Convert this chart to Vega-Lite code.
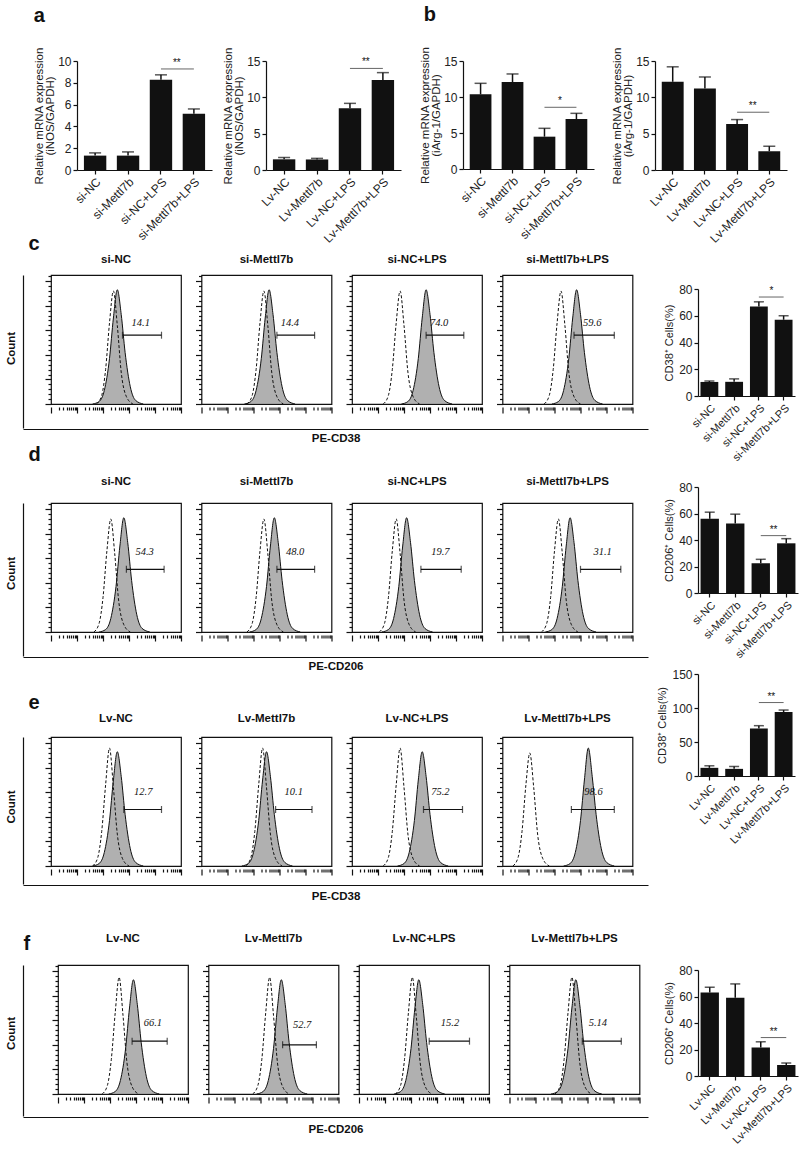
{
"$schema":"https://vega.github.io/schema/vega-lite/v6.json",
"padding":{"left":5,"top":5,"right":5,"bottom":5},
"background":"white",
"config":{
 "font":"Liberation Sans",
 "view":{"stroke":null},
 "axis":{"domainColor":"#111","tickColor":"#111","labelColor":"#222","titleColor":"#222","grid":false,"labelFont":"Liberation Sans","titleFont":"Liberation Sans","titleFontWeight":"normal","labelFontSize":12,"titleFontSize":11,"tickSize":4,"labelPadding":2,"titlePadding":4,"domainWidth":1.2,"tickWidth":1.2,"labelOverlap":false},
 "axisY":{"minExtent":0},
 "title":{"font":"Liberation Sans","color":"#111"},
 "header":{"labelFont":"Liberation Sans","labelColor":"#111","labelFontWeight":"bold","labelFontSize":11.5,"title":null}
},
"datasets":{
"bars":[
{"p":"a1","g":"si-NC","m":1.32,"h":1.57},{"p":"a1","g":"si-Mettl7b","m":1.32,"h":1.66},{"p":"a1","g":"si-NC+LPS","m":8.27,"h":8.73},{"p":"a1","g":"si-Mettl7b+LPS","m":5.15,"h":5.6},
{"p":"a2","g":"Lv-NC","m":1.47,"h":1.72},{"p":"a2","g":"Lv-Mettl7b","m":1.45,"h":1.6},{"p":"a2","g":"Lv-NC+LPS","m":8.49,"h":9.17},{"p":"a2","g":"Lv-Mettl7b+LPS","m":12.38,"h":13.4},
{"p":"b1","g":"si-NC","m":10.37,"h":11.9},{"p":"b1","g":"si-Mettl7b","m":12.08,"h":13.2},{"p":"b1","g":"si-NC+LPS","m":4.49,"h":5.65},{"p":"b1","g":"si-Mettl7b+LPS","m":6.94,"h":7.73},
{"p":"b2","g":"Lv-NC","m":12.14,"h":14.2},{"p":"b2","g":"Lv-Mettl7b","m":11.2,"h":12.8},{"p":"b2","g":"Lv-NC+LPS","m":6.34,"h":6.94},{"p":"b2","g":"Lv-Mettl7b+LPS","m":2.58,"h":3.27},
{"p":"c","g":"si-NC","m":10.5,"h":11.2},{"p":"c","g":"si-Mettl7b","m":10.6,"h":12.8},{"p":"c","g":"si-NC+LPS","m":67,"h":70.4},{"p":"c","g":"si-Mettl7b+LPS","m":57,"h":60},
{"p":"d","g":"si-NC","m":56,"h":61},{"p":"d","g":"si-Mettl7b","m":52.5,"h":59.5},{"p":"d","g":"si-NC+LPS","m":22.5,"h":25.4},{"p":"d","g":"si-Mettl7b+LPS","m":37.5,"h":41},
{"p":"e","g":"Lv-NC","m":12,"h":15},{"p":"e","g":"Lv-Mettl7b","m":10.5,"h":14},{"p":"e","g":"Lv-NC+LPS","m":70,"h":74},{"p":"e","g":"Lv-Mettl7b+LPS","m":94,"h":97},
{"p":"f","g":"Lv-NC","m":63,"h":67},{"p":"f","g":"Lv-Mettl7b","m":59,"h":69.5},{"p":"f","g":"Lv-NC+LPS","m":21.5,"h":25.8},{"p":"f","g":"Lv-Mettl7b+LPS","m":8.3,"h":9.8}
],
"sig":[
{"p":"a1","g1":"si-NC+LPS","g2":"si-Mettl7b+LPS","y":9.27,"t":"**"},
{"p":"a2","g1":"Lv-NC+LPS","g2":"Lv-Mettl7b+LPS","y":13.98,"t":"**"},
{"p":"b1","g1":"si-NC+LPS","g2":"si-Mettl7b+LPS","y":8.57,"t":"*"},
{"p":"b2","g1":"Lv-NC+LPS","g2":"Lv-Mettl7b+LPS","y":7.95,"t":"**"},
{"p":"c","g1":"si-NC+LPS","g2":"si-Mettl7b+LPS","y":74,"t":"*"},
{"p":"d","g1":"si-NC+LPS","g2":"si-Mettl7b+LPS","y":43.3,"t":"**"},
{"p":"e","g1":"Lv-NC+LPS","g2":"Lv-Mettl7b+LPS","y":108,"t":"**"},
{"p":"f","g1":"Lv-NC+LPS","g2":"Lv-Mettl7b+LPS","y":29,"t":"**"}
],
"hist":[
{"r":"c","g":"si-NC","k":"f","x":32,"y":0},{"r":"c","g":"si-NC","k":"f","x":37,"y":2},{"r":"c","g":"si-NC","k":"f","x":41,"y":11},{"r":"c","g":"si-NC","k":"f","x":45,"y":37},{"r":"c","g":"si-NC","k":"f","x":48,"y":70},{"r":"c","g":"si-NC","k":"f","x":51,"y":93},{"r":"c","g":"si-NC","k":"f","x":54,"y":73},{"r":"c","g":"si-NC","k":"f","x":57,"y":42},{"r":"c","g":"si-NC","k":"f","x":61,"y":14},{"r":"c","g":"si-NC","k":"f","x":65,"y":3},{"r":"c","g":"si-NC","k":"f","x":71,"y":0},
{"r":"c","g":"si-NC","k":"d","x":35,"y":0},{"r":"c","g":"si-NC","k":"d","x":39,"y":7},{"r":"c","g":"si-NC","k":"d","x":42,"y":28},{"r":"c","g":"si-NC","k":"d","x":45,"y":66},{"r":"c","g":"si-NC","k":"d","x":48,"y":92},{"r":"c","g":"si-NC","k":"d","x":51,"y":64},{"r":"c","g":"si-NC","k":"d","x":54,"y":26},{"r":"c","g":"si-NC","k":"d","x":58,"y":6},{"r":"c","g":"si-NC","k":"d","x":63,"y":0},
{"r":"c","g":"si-NC","k":"gate","x":55,"x2":85,"y":56},{"r":"c","g":"si-NC","k":"cap","x":55,"y":56},{"r":"c","g":"si-NC","k":"cap","x":85,"y":56},{"r":"c","g":"si-NC","k":"lab","x":69,"y":66,"t":"14.1"},
{"r":"c","g":"si-Mettl7b","k":"f","x":33,"y":0},{"r":"c","g":"si-Mettl7b","k":"f","x":38,"y":2},{"r":"c","g":"si-Mettl7b","k":"f","x":42,"y":11},{"r":"c","g":"si-Mettl7b","k":"f","x":46,"y":37},{"r":"c","g":"si-Mettl7b","k":"f","x":49,"y":70},{"r":"c","g":"si-Mettl7b","k":"f","x":52,"y":93},{"r":"c","g":"si-Mettl7b","k":"f","x":55,"y":73},{"r":"c","g":"si-Mettl7b","k":"f","x":58,"y":42},{"r":"c","g":"si-Mettl7b","k":"f","x":62,"y":14},{"r":"c","g":"si-Mettl7b","k":"f","x":66,"y":3},{"r":"c","g":"si-Mettl7b","k":"f","x":72,"y":0},
{"r":"c","g":"si-Mettl7b","k":"d","x":35,"y":0},{"r":"c","g":"si-Mettl7b","k":"d","x":39,"y":7},{"r":"c","g":"si-Mettl7b","k":"d","x":42,"y":28},{"r":"c","g":"si-Mettl7b","k":"d","x":45,"y":66},{"r":"c","g":"si-Mettl7b","k":"d","x":48,"y":92},{"r":"c","g":"si-Mettl7b","k":"d","x":51,"y":64},{"r":"c","g":"si-Mettl7b","k":"d","x":54,"y":26},{"r":"c","g":"si-Mettl7b","k":"d","x":58,"y":6},{"r":"c","g":"si-Mettl7b","k":"d","x":63,"y":0},
{"r":"c","g":"si-Mettl7b","k":"gate","x":58,"x2":87,"y":56},{"r":"c","g":"si-Mettl7b","k":"cap","x":58,"y":56},{"r":"c","g":"si-Mettl7b","k":"cap","x":87,"y":56},{"r":"c","g":"si-Mettl7b","k":"lab","x":68,"y":66,"t":"14.4"},
{"r":"c","g":"si-NC+LPS","k":"f","x":38,"y":0},{"r":"c","g":"si-NC+LPS","k":"f","x":43,"y":2},{"r":"c","g":"si-NC+LPS","k":"f","x":47,"y":11},{"r":"c","g":"si-NC+LPS","k":"f","x":51,"y":37},{"r":"c","g":"si-NC+LPS","k":"f","x":54,"y":70},{"r":"c","g":"si-NC+LPS","k":"f","x":57,"y":93},{"r":"c","g":"si-NC+LPS","k":"f","x":60,"y":73},{"r":"c","g":"si-NC+LPS","k":"f","x":63,"y":42},{"r":"c","g":"si-NC+LPS","k":"f","x":67,"y":14},{"r":"c","g":"si-NC+LPS","k":"f","x":71,"y":3},{"r":"c","g":"si-NC+LPS","k":"f","x":77,"y":0},
{"r":"c","g":"si-NC+LPS","k":"d","x":24,"y":0},{"r":"c","g":"si-NC+LPS","k":"d","x":28,"y":7},{"r":"c","g":"si-NC+LPS","k":"d","x":31,"y":28},{"r":"c","g":"si-NC+LPS","k":"d","x":34,"y":66},{"r":"c","g":"si-NC+LPS","k":"d","x":37,"y":92},{"r":"c","g":"si-NC+LPS","k":"d","x":40,"y":64},{"r":"c","g":"si-NC+LPS","k":"d","x":43,"y":26},{"r":"c","g":"si-NC+LPS","k":"d","x":47,"y":6},{"r":"c","g":"si-NC+LPS","k":"d","x":52,"y":0},
{"r":"c","g":"si-NC+LPS","k":"gate","x":57,"x2":86,"y":56},{"r":"c","g":"si-NC+LPS","k":"cap","x":57,"y":56},{"r":"c","g":"si-NC+LPS","k":"cap","x":86,"y":56},{"r":"c","g":"si-NC+LPS","k":"lab","x":67,"y":66,"t":"74.0"},
{"r":"c","g":"si-Mettl7b+LPS","k":"f","x":38,"y":0},{"r":"c","g":"si-Mettl7b+LPS","k":"f","x":43,"y":2},{"r":"c","g":"si-Mettl7b+LPS","k":"f","x":47,"y":11},{"r":"c","g":"si-Mettl7b+LPS","k":"f","x":51,"y":37},{"r":"c","g":"si-Mettl7b+LPS","k":"f","x":54,"y":70},{"r":"c","g":"si-Mettl7b+LPS","k":"f","x":57,"y":93},{"r":"c","g":"si-Mettl7b+LPS","k":"f","x":60,"y":73},{"r":"c","g":"si-Mettl7b+LPS","k":"f","x":63,"y":42},{"r":"c","g":"si-Mettl7b+LPS","k":"f","x":67,"y":14},{"r":"c","g":"si-Mettl7b+LPS","k":"f","x":71,"y":3},{"r":"c","g":"si-Mettl7b+LPS","k":"f","x":77,"y":0},
{"r":"c","g":"si-Mettl7b+LPS","k":"d","x":32,"y":0},{"r":"c","g":"si-Mettl7b+LPS","k":"d","x":36,"y":7},{"r":"c","g":"si-Mettl7b+LPS","k":"d","x":39,"y":28},{"r":"c","g":"si-Mettl7b+LPS","k":"d","x":42,"y":66},{"r":"c","g":"si-Mettl7b+LPS","k":"d","x":45,"y":92},{"r":"c","g":"si-Mettl7b+LPS","k":"d","x":48,"y":64},{"r":"c","g":"si-Mettl7b+LPS","k":"d","x":51,"y":26},{"r":"c","g":"si-Mettl7b+LPS","k":"d","x":55,"y":6},{"r":"c","g":"si-Mettl7b+LPS","k":"d","x":60,"y":0},
{"r":"c","g":"si-Mettl7b+LPS","k":"gate","x":55,"x2":86,"y":56},{"r":"c","g":"si-Mettl7b+LPS","k":"cap","x":55,"y":56},{"r":"c","g":"si-Mettl7b+LPS","k":"cap","x":86,"y":56},{"r":"c","g":"si-Mettl7b+LPS","k":"lab","x":69,"y":66,"t":"59.6"},

{"r":"d","g":"si-NC","k":"f","x":37,"y":0},{"r":"d","g":"si-NC","k":"f","x":42,"y":2},{"r":"d","g":"si-NC","k":"f","x":46,"y":11},{"r":"d","g":"si-NC","k":"f","x":50,"y":37},{"r":"d","g":"si-NC","k":"f","x":53,"y":70},{"r":"d","g":"si-NC","k":"f","x":56,"y":93},{"r":"d","g":"si-NC","k":"f","x":59,"y":73},{"r":"d","g":"si-NC","k":"f","x":62,"y":42},{"r":"d","g":"si-NC","k":"f","x":66,"y":14},{"r":"d","g":"si-NC","k":"f","x":70,"y":3},{"r":"d","g":"si-NC","k":"f","x":76,"y":0},
{"r":"d","g":"si-NC","k":"d","x":33,"y":0},{"r":"d","g":"si-NC","k":"d","x":37,"y":7},{"r":"d","g":"si-NC","k":"d","x":40,"y":28},{"r":"d","g":"si-NC","k":"d","x":43,"y":66},{"r":"d","g":"si-NC","k":"d","x":46,"y":92},{"r":"d","g":"si-NC","k":"d","x":49,"y":64},{"r":"d","g":"si-NC","k":"d","x":52,"y":26},{"r":"d","g":"si-NC","k":"d","x":56,"y":6},{"r":"d","g":"si-NC","k":"d","x":61,"y":0},
{"r":"d","g":"si-NC","k":"gate","x":58,"x2":87,"y":51},{"r":"d","g":"si-NC","k":"cap","x":58,"y":51},{"r":"d","g":"si-NC","k":"cap","x":87,"y":51},{"r":"d","g":"si-NC","k":"lab","x":72,"y":65,"t":"54.3"},
{"r":"d","g":"si-Mettl7b","k":"f","x":37,"y":0},{"r":"d","g":"si-Mettl7b","k":"f","x":42,"y":2},{"r":"d","g":"si-Mettl7b","k":"f","x":46,"y":11},{"r":"d","g":"si-Mettl7b","k":"f","x":50,"y":37},{"r":"d","g":"si-Mettl7b","k":"f","x":53,"y":70},{"r":"d","g":"si-Mettl7b","k":"f","x":56,"y":93},{"r":"d","g":"si-Mettl7b","k":"f","x":59,"y":73},{"r":"d","g":"si-Mettl7b","k":"f","x":62,"y":42},{"r":"d","g":"si-Mettl7b","k":"f","x":66,"y":14},{"r":"d","g":"si-Mettl7b","k":"f","x":70,"y":3},{"r":"d","g":"si-Mettl7b","k":"f","x":76,"y":0},
{"r":"d","g":"si-Mettl7b","k":"d","x":35,"y":0},{"r":"d","g":"si-Mettl7b","k":"d","x":39,"y":7},{"r":"d","g":"si-Mettl7b","k":"d","x":42,"y":28},{"r":"d","g":"si-Mettl7b","k":"d","x":45,"y":66},{"r":"d","g":"si-Mettl7b","k":"d","x":48,"y":92},{"r":"d","g":"si-Mettl7b","k":"d","x":51,"y":64},{"r":"d","g":"si-Mettl7b","k":"d","x":54,"y":26},{"r":"d","g":"si-Mettl7b","k":"d","x":58,"y":6},{"r":"d","g":"si-Mettl7b","k":"d","x":63,"y":0},
{"r":"d","g":"si-Mettl7b","k":"gate","x":58,"x2":87,"y":51},{"r":"d","g":"si-Mettl7b","k":"cap","x":58,"y":51},{"r":"d","g":"si-Mettl7b","k":"cap","x":87,"y":51},{"r":"d","g":"si-Mettl7b","k":"lab","x":72,"y":65,"t":"48.0"},
{"r":"d","g":"si-NC+LPS","k":"f","x":23,"y":0},{"r":"d","g":"si-NC+LPS","k":"f","x":28,"y":2},{"r":"d","g":"si-NC+LPS","k":"f","x":32,"y":11},{"r":"d","g":"si-NC+LPS","k":"f","x":36,"y":37},{"r":"d","g":"si-NC+LPS","k":"f","x":39,"y":70},{"r":"d","g":"si-NC+LPS","k":"f","x":42,"y":93},{"r":"d","g":"si-NC+LPS","k":"f","x":45,"y":73},{"r":"d","g":"si-NC+LPS","k":"f","x":48,"y":42},{"r":"d","g":"si-NC+LPS","k":"f","x":52,"y":14},{"r":"d","g":"si-NC+LPS","k":"f","x":56,"y":3},{"r":"d","g":"si-NC+LPS","k":"f","x":62,"y":0},
{"r":"d","g":"si-NC+LPS","k":"d","x":21,"y":0},{"r":"d","g":"si-NC+LPS","k":"d","x":25,"y":7},{"r":"d","g":"si-NC+LPS","k":"d","x":28,"y":28},{"r":"d","g":"si-NC+LPS","k":"d","x":31,"y":66},{"r":"d","g":"si-NC+LPS","k":"d","x":34,"y":92},{"r":"d","g":"si-NC+LPS","k":"d","x":37,"y":64},{"r":"d","g":"si-NC+LPS","k":"d","x":40,"y":26},{"r":"d","g":"si-NC+LPS","k":"d","x":44,"y":6},{"r":"d","g":"si-NC+LPS","k":"d","x":49,"y":0},
{"r":"d","g":"si-NC+LPS","k":"gate","x":53,"x2":84,"y":51},{"r":"d","g":"si-NC+LPS","k":"cap","x":53,"y":51},{"r":"d","g":"si-NC+LPS","k":"cap","x":84,"y":51},{"r":"d","g":"si-NC+LPS","k":"lab","x":68,"y":65,"t":"19.7"},
{"r":"d","g":"si-Mettl7b+LPS","k":"f","x":33,"y":0},{"r":"d","g":"si-Mettl7b+LPS","k":"f","x":38,"y":2},{"r":"d","g":"si-Mettl7b+LPS","k":"f","x":42,"y":11},{"r":"d","g":"si-Mettl7b+LPS","k":"f","x":46,"y":37},{"r":"d","g":"si-Mettl7b+LPS","k":"f","x":49,"y":70},{"r":"d","g":"si-Mettl7b+LPS","k":"f","x":52,"y":93},{"r":"d","g":"si-Mettl7b+LPS","k":"f","x":55,"y":73},{"r":"d","g":"si-Mettl7b+LPS","k":"f","x":58,"y":42},{"r":"d","g":"si-Mettl7b+LPS","k":"f","x":62,"y":14},{"r":"d","g":"si-Mettl7b+LPS","k":"f","x":66,"y":3},{"r":"d","g":"si-Mettl7b+LPS","k":"f","x":72,"y":0},
{"r":"d","g":"si-Mettl7b+LPS","k":"d","x":30,"y":0},{"r":"d","g":"si-Mettl7b+LPS","k":"d","x":34,"y":7},{"r":"d","g":"si-Mettl7b+LPS","k":"d","x":37,"y":28},{"r":"d","g":"si-Mettl7b+LPS","k":"d","x":40,"y":66},{"r":"d","g":"si-Mettl7b+LPS","k":"d","x":43,"y":92},{"r":"d","g":"si-Mettl7b+LPS","k":"d","x":46,"y":64},{"r":"d","g":"si-Mettl7b+LPS","k":"d","x":49,"y":26},{"r":"d","g":"si-Mettl7b+LPS","k":"d","x":53,"y":6},{"r":"d","g":"si-Mettl7b+LPS","k":"d","x":58,"y":0},
{"r":"d","g":"si-Mettl7b+LPS","k":"gate","x":60,"x2":91,"y":51},{"r":"d","g":"si-Mettl7b+LPS","k":"cap","x":60,"y":51},{"r":"d","g":"si-Mettl7b+LPS","k":"cap","x":91,"y":51},{"r":"d","g":"si-Mettl7b+LPS","k":"lab","x":77,"y":65,"t":"31.1"},

{"r":"e","g":"Lv-NC","k":"f","x":32,"y":0},{"r":"e","g":"Lv-NC","k":"f","x":37,"y":2},{"r":"e","g":"Lv-NC","k":"f","x":41,"y":11},{"r":"e","g":"Lv-NC","k":"f","x":45,"y":37},{"r":"e","g":"Lv-NC","k":"f","x":48,"y":70},{"r":"e","g":"Lv-NC","k":"f","x":51,"y":93},{"r":"e","g":"Lv-NC","k":"f","x":54,"y":73},{"r":"e","g":"Lv-NC","k":"f","x":57,"y":42},{"r":"e","g":"Lv-NC","k":"f","x":61,"y":14},{"r":"e","g":"Lv-NC","k":"f","x":65,"y":3},{"r":"e","g":"Lv-NC","k":"f","x":71,"y":0},
{"r":"e","g":"Lv-NC","k":"d","x":32,"y":0},{"r":"e","g":"Lv-NC","k":"d","x":36,"y":7},{"r":"e","g":"Lv-NC","k":"d","x":39,"y":28},{"r":"e","g":"Lv-NC","k":"d","x":42,"y":66},{"r":"e","g":"Lv-NC","k":"d","x":45,"y":96},{"r":"e","g":"Lv-NC","k":"d","x":48,"y":64},{"r":"e","g":"Lv-NC","k":"d","x":51,"y":26},{"r":"e","g":"Lv-NC","k":"d","x":55,"y":6},{"r":"e","g":"Lv-NC","k":"d","x":60,"y":0},
{"r":"e","g":"Lv-NC","k":"gate","x":56,"x2":85,"y":46},{"r":"e","g":"Lv-NC","k":"cap","x":56,"y":46},{"r":"e","g":"Lv-NC","k":"cap","x":85,"y":46},{"r":"e","g":"Lv-NC","k":"lab","x":71,"y":60,"t":"12.7"},
{"r":"e","g":"Lv-Mettl7b","k":"f","x":31,"y":0},{"r":"e","g":"Lv-Mettl7b","k":"f","x":36,"y":2},{"r":"e","g":"Lv-Mettl7b","k":"f","x":40,"y":11},{"r":"e","g":"Lv-Mettl7b","k":"f","x":44,"y":37},{"r":"e","g":"Lv-Mettl7b","k":"f","x":47,"y":70},{"r":"e","g":"Lv-Mettl7b","k":"f","x":50,"y":93},{"r":"e","g":"Lv-Mettl7b","k":"f","x":53,"y":73},{"r":"e","g":"Lv-Mettl7b","k":"f","x":56,"y":42},{"r":"e","g":"Lv-Mettl7b","k":"f","x":60,"y":14},{"r":"e","g":"Lv-Mettl7b","k":"f","x":64,"y":3},{"r":"e","g":"Lv-Mettl7b","k":"f","x":70,"y":0},
{"r":"e","g":"Lv-Mettl7b","k":"d","x":34,"y":0},{"r":"e","g":"Lv-Mettl7b","k":"d","x":38,"y":7},{"r":"e","g":"Lv-Mettl7b","k":"d","x":41,"y":28},{"r":"e","g":"Lv-Mettl7b","k":"d","x":44,"y":66},{"r":"e","g":"Lv-Mettl7b","k":"d","x":47,"y":96},{"r":"e","g":"Lv-Mettl7b","k":"d","x":50,"y":64},{"r":"e","g":"Lv-Mettl7b","k":"d","x":53,"y":26},{"r":"e","g":"Lv-Mettl7b","k":"d","x":57,"y":6},{"r":"e","g":"Lv-Mettl7b","k":"d","x":62,"y":0},
{"r":"e","g":"Lv-Mettl7b","k":"gate","x":57,"x2":85,"y":46},{"r":"e","g":"Lv-Mettl7b","k":"cap","x":57,"y":46},{"r":"e","g":"Lv-Mettl7b","k":"cap","x":85,"y":46},{"r":"e","g":"Lv-Mettl7b","k":"lab","x":71,"y":60,"t":"10.1"},
{"r":"e","g":"Lv-NC+LPS","k":"f","x":35,"y":0},{"r":"e","g":"Lv-NC+LPS","k":"f","x":40,"y":2},{"r":"e","g":"Lv-NC+LPS","k":"f","x":44,"y":11},{"r":"e","g":"Lv-NC+LPS","k":"f","x":48,"y":37},{"r":"e","g":"Lv-NC+LPS","k":"f","x":51,"y":70},{"r":"e","g":"Lv-NC+LPS","k":"f","x":54,"y":93},{"r":"e","g":"Lv-NC+LPS","k":"f","x":57,"y":73},{"r":"e","g":"Lv-NC+LPS","k":"f","x":60,"y":42},{"r":"e","g":"Lv-NC+LPS","k":"f","x":64,"y":14},{"r":"e","g":"Lv-NC+LPS","k":"f","x":68,"y":3},{"r":"e","g":"Lv-NC+LPS","k":"f","x":74,"y":0},
{"r":"e","g":"Lv-NC+LPS","k":"d","x":24,"y":0},{"r":"e","g":"Lv-NC+LPS","k":"d","x":28,"y":7},{"r":"e","g":"Lv-NC+LPS","k":"d","x":31,"y":28},{"r":"e","g":"Lv-NC+LPS","k":"d","x":34,"y":66},{"r":"e","g":"Lv-NC+LPS","k":"d","x":37,"y":96},{"r":"e","g":"Lv-NC+LPS","k":"d","x":40,"y":64},{"r":"e","g":"Lv-NC+LPS","k":"d","x":43,"y":26},{"r":"e","g":"Lv-NC+LPS","k":"d","x":47,"y":6},{"r":"e","g":"Lv-NC+LPS","k":"d","x":52,"y":0},
{"r":"e","g":"Lv-NC+LPS","k":"gate","x":55,"x2":85,"y":46},{"r":"e","g":"Lv-NC+LPS","k":"cap","x":55,"y":46},{"r":"e","g":"Lv-NC+LPS","k":"cap","x":85,"y":46},{"r":"e","g":"Lv-NC+LPS","k":"lab","x":68,"y":60,"t":"75.2"},
{"r":"e","g":"Lv-Mettl7b+LPS","k":"f","x":47,"y":0},{"r":"e","g":"Lv-Mettl7b+LPS","k":"f","x":52,"y":2},{"r":"e","g":"Lv-Mettl7b+LPS","k":"f","x":56,"y":11},{"r":"e","g":"Lv-Mettl7b+LPS","k":"f","x":60,"y":37},{"r":"e","g":"Lv-Mettl7b+LPS","k":"f","x":63,"y":70},{"r":"e","g":"Lv-Mettl7b+LPS","k":"f","x":66,"y":96},{"r":"e","g":"Lv-Mettl7b+LPS","k":"f","x":69,"y":73},{"r":"e","g":"Lv-Mettl7b+LPS","k":"f","x":72,"y":42},{"r":"e","g":"Lv-Mettl7b+LPS","k":"f","x":76,"y":14},{"r":"e","g":"Lv-Mettl7b+LPS","k":"f","x":80,"y":3},{"r":"e","g":"Lv-Mettl7b+LPS","k":"f","x":86,"y":0},
{"r":"e","g":"Lv-Mettl7b+LPS","k":"d","x":8,"y":0},{"r":"e","g":"Lv-Mettl7b+LPS","k":"d","x":12,"y":7},{"r":"e","g":"Lv-Mettl7b+LPS","k":"d","x":15,"y":28},{"r":"e","g":"Lv-Mettl7b+LPS","k":"d","x":18,"y":66},{"r":"e","g":"Lv-Mettl7b+LPS","k":"d","x":21,"y":92},{"r":"e","g":"Lv-Mettl7b+LPS","k":"d","x":24,"y":64},{"r":"e","g":"Lv-Mettl7b+LPS","k":"d","x":27,"y":26},{"r":"e","g":"Lv-Mettl7b+LPS","k":"d","x":31,"y":6},{"r":"e","g":"Lv-Mettl7b+LPS","k":"d","x":36,"y":0},
{"r":"e","g":"Lv-Mettl7b+LPS","k":"gate","x":53,"x2":86,"y":46},{"r":"e","g":"Lv-Mettl7b+LPS","k":"cap","x":53,"y":46},{"r":"e","g":"Lv-Mettl7b+LPS","k":"cap","x":86,"y":46},{"r":"e","g":"Lv-Mettl7b+LPS","k":"lab","x":70,"y":60,"t":"98.6"},

{"r":"f","g":"Lv-NC","k":"f","x":39,"y":0},{"r":"f","g":"Lv-NC","k":"f","x":44,"y":2},{"r":"f","g":"Lv-NC","k":"f","x":48,"y":11},{"r":"f","g":"Lv-NC","k":"f","x":52,"y":37},{"r":"f","g":"Lv-NC","k":"f","x":55,"y":70},{"r":"f","g":"Lv-NC","k":"f","x":58,"y":93},{"r":"f","g":"Lv-NC","k":"f","x":61,"y":73},{"r":"f","g":"Lv-NC","k":"f","x":64,"y":42},{"r":"f","g":"Lv-NC","k":"f","x":68,"y":14},{"r":"f","g":"Lv-NC","k":"f","x":72,"y":3},{"r":"f","g":"Lv-NC","k":"f","x":78,"y":0},
{"r":"f","g":"Lv-NC","k":"d","x":34,"y":0},{"r":"f","g":"Lv-NC","k":"d","x":38,"y":7},{"r":"f","g":"Lv-NC","k":"d","x":41,"y":28},{"r":"f","g":"Lv-NC","k":"d","x":44,"y":66},{"r":"f","g":"Lv-NC","k":"d","x":47,"y":95},{"r":"f","g":"Lv-NC","k":"d","x":50,"y":64},{"r":"f","g":"Lv-NC","k":"d","x":53,"y":26},{"r":"f","g":"Lv-NC","k":"d","x":57,"y":6},{"r":"f","g":"Lv-NC","k":"d","x":62,"y":0},
{"r":"f","g":"Lv-NC","k":"gate","x":57,"x2":84,"y":43},{"r":"f","g":"Lv-NC","k":"cap","x":57,"y":43},{"r":"f","g":"Lv-NC","k":"cap","x":84,"y":43},{"r":"f","g":"Lv-NC","k":"lab","x":73,"y":58,"t":"66.1"},
{"r":"f","g":"Lv-Mettl7b","k":"f","x":37,"y":0},{"r":"f","g":"Lv-Mettl7b","k":"f","x":42,"y":2},{"r":"f","g":"Lv-Mettl7b","k":"f","x":46,"y":11},{"r":"f","g":"Lv-Mettl7b","k":"f","x":50,"y":37},{"r":"f","g":"Lv-Mettl7b","k":"f","x":53,"y":70},{"r":"f","g":"Lv-Mettl7b","k":"f","x":56,"y":93},{"r":"f","g":"Lv-Mettl7b","k":"f","x":59,"y":73},{"r":"f","g":"Lv-Mettl7b","k":"f","x":62,"y":42},{"r":"f","g":"Lv-Mettl7b","k":"f","x":66,"y":14},{"r":"f","g":"Lv-Mettl7b","k":"f","x":70,"y":3},{"r":"f","g":"Lv-Mettl7b","k":"f","x":76,"y":0},
{"r":"f","g":"Lv-Mettl7b","k":"d","x":34,"y":0},{"r":"f","g":"Lv-Mettl7b","k":"d","x":38,"y":7},{"r":"f","g":"Lv-Mettl7b","k":"d","x":41,"y":28},{"r":"f","g":"Lv-Mettl7b","k":"d","x":44,"y":66},{"r":"f","g":"Lv-Mettl7b","k":"d","x":47,"y":95},{"r":"f","g":"Lv-Mettl7b","k":"d","x":50,"y":64},{"r":"f","g":"Lv-Mettl7b","k":"d","x":53,"y":26},{"r":"f","g":"Lv-Mettl7b","k":"d","x":57,"y":6},{"r":"f","g":"Lv-Mettl7b","k":"d","x":62,"y":0},
{"r":"f","g":"Lv-Mettl7b","k":"gate","x":57,"x2":83,"y":40},{"r":"f","g":"Lv-Mettl7b","k":"cap","x":57,"y":40},{"r":"f","g":"Lv-Mettl7b","k":"cap","x":83,"y":40},{"r":"f","g":"Lv-Mettl7b","k":"lab","x":72,"y":56,"t":"52.7"},
{"r":"f","g":"Lv-NC+LPS","k":"f","x":27,"y":0},{"r":"f","g":"Lv-NC+LPS","k":"f","x":32,"y":2},{"r":"f","g":"Lv-NC+LPS","k":"f","x":36,"y":11},{"r":"f","g":"Lv-NC+LPS","k":"f","x":40,"y":37},{"r":"f","g":"Lv-NC+LPS","k":"f","x":43,"y":70},{"r":"f","g":"Lv-NC+LPS","k":"f","x":46,"y":93},{"r":"f","g":"Lv-NC+LPS","k":"f","x":49,"y":73},{"r":"f","g":"Lv-NC+LPS","k":"f","x":52,"y":42},{"r":"f","g":"Lv-NC+LPS","k":"f","x":56,"y":14},{"r":"f","g":"Lv-NC+LPS","k":"f","x":60,"y":3},{"r":"f","g":"Lv-NC+LPS","k":"f","x":66,"y":0},
{"r":"f","g":"Lv-NC+LPS","k":"d","x":28,"y":0},{"r":"f","g":"Lv-NC+LPS","k":"d","x":32,"y":7},{"r":"f","g":"Lv-NC+LPS","k":"d","x":35,"y":28},{"r":"f","g":"Lv-NC+LPS","k":"d","x":38,"y":66},{"r":"f","g":"Lv-NC+LPS","k":"d","x":41,"y":95},{"r":"f","g":"Lv-NC+LPS","k":"d","x":44,"y":64},{"r":"f","g":"Lv-NC+LPS","k":"d","x":47,"y":26},{"r":"f","g":"Lv-NC+LPS","k":"d","x":51,"y":6},{"r":"f","g":"Lv-NC+LPS","k":"d","x":56,"y":0},
{"r":"f","g":"Lv-NC+LPS","k":"gate","x":54,"x2":85,"y":43},{"r":"f","g":"Lv-NC+LPS","k":"cap","x":54,"y":43},{"r":"f","g":"Lv-NC+LPS","k":"cap","x":85,"y":43},{"r":"f","g":"Lv-NC+LPS","k":"lab","x":70,"y":58,"t":"15.2"},
{"r":"f","g":"Lv-Mettl7b+LPS","k":"f","x":32,"y":0},{"r":"f","g":"Lv-Mettl7b+LPS","k":"f","x":37,"y":2},{"r":"f","g":"Lv-Mettl7b+LPS","k":"f","x":41,"y":11},{"r":"f","g":"Lv-Mettl7b+LPS","k":"f","x":45,"y":37},{"r":"f","g":"Lv-Mettl7b+LPS","k":"f","x":48,"y":70},{"r":"f","g":"Lv-Mettl7b+LPS","k":"f","x":51,"y":93},{"r":"f","g":"Lv-Mettl7b+LPS","k":"f","x":54,"y":73},{"r":"f","g":"Lv-Mettl7b+LPS","k":"f","x":57,"y":42},{"r":"f","g":"Lv-Mettl7b+LPS","k":"f","x":61,"y":14},{"r":"f","g":"Lv-Mettl7b+LPS","k":"f","x":65,"y":3},{"r":"f","g":"Lv-Mettl7b+LPS","k":"f","x":71,"y":0},
{"r":"f","g":"Lv-Mettl7b+LPS","k":"d","x":35,"y":0},{"r":"f","g":"Lv-Mettl7b+LPS","k":"d","x":39,"y":7},{"r":"f","g":"Lv-Mettl7b+LPS","k":"d","x":42,"y":28},{"r":"f","g":"Lv-Mettl7b+LPS","k":"d","x":45,"y":66},{"r":"f","g":"Lv-Mettl7b+LPS","k":"d","x":48,"y":95},{"r":"f","g":"Lv-Mettl7b+LPS","k":"d","x":51,"y":64},{"r":"f","g":"Lv-Mettl7b+LPS","k":"d","x":54,"y":26},{"r":"f","g":"Lv-Mettl7b+LPS","k":"d","x":58,"y":6},{"r":"f","g":"Lv-Mettl7b+LPS","k":"d","x":63,"y":0},
{"r":"f","g":"Lv-Mettl7b+LPS","k":"gate","x":56,"x2":86,"y":43},{"r":"f","g":"Lv-Mettl7b+LPS","k":"cap","x":56,"y":43},{"r":"f","g":"Lv-Mettl7b+LPS","k":"cap","x":86,"y":43},{"r":"f","g":"Lv-Mettl7b+LPS","k":"lab","x":68,"y":58,"t":"5.14"}
]
},
"spacing":-12,
"vconcat":[
{"spacing":9,"hconcat":[
 {"width":1,"height":1,"data":{"values":[{}]},"mark":{"type":"rule","opacity":0},"encoding":{}},
 {"spacing":18,"hconcat":[
 {"title":{"text":"a","anchor":"start","frame":"bounds","fontSize":20,"fontWeight":"bold","offset":21},"spacing":10,"hconcat":[
  {"width":135,"height":109,"layer":[
   {"data":{"name":"bars"},"transform":[{"filter":"datum.p === 'a1'"}],"mark":{"type":"bar","color":"#111"},"encoding":{"x":{"field":"g","type":"nominal","scale":{"domain":["si-NC","si-Mettl7b","si-NC+LPS","si-Mettl7b+LPS"],"paddingInner":0.32,"paddingOuter":0.21},"axis":{"title":null,"labelAngle":-45}},"y":{"field":"m","type":"quantitative","scale":{"domain":[0,10],"nice":false},"axis":{"values":[0,2,4,6,8,10],"title":["Relative mRNA expression","(iNOS/GAPDH)"],"titleFontSize":11.5,"titleLineHeight":11,"titlePadding":2,"minExtent":0,"labelOverlap":false}}}},
   {"data":{"name":"bars"},"transform":[{"filter":"datum.p === 'a1'"}],"mark":{"type":"rule","color":"#111","strokeWidth":1.5},"encoding":{"x":{"field":"g","type":"nominal"},"y":{"field":"m","type":"quantitative","axis":{"values":[0,2,4,6,8,10],"title":["Relative mRNA expression","(iNOS/GAPDH)"],"titleFontSize":11.5,"titleLineHeight":11,"titlePadding":2,"minExtent":0,"labelOverlap":false}},"y2":{"field":"h"}}},
   {"data":{"name":"bars"},"transform":[{"filter":"datum.p === 'a1'"}],"mark":{"type":"tick","orient":"horizontal","color":"#111","thickness":1.5,"size":12},"encoding":{"x":{"field":"g","type":"nominal"},"y":{"field":"h","type":"quantitative","axis":{"values":[0,2,4,6,8,10],"title":["Relative mRNA expression","(iNOS/GAPDH)"],"titleFontSize":11.5,"titleLineHeight":11,"titlePadding":2,"minExtent":0,"labelOverlap":false}}}},
   {"data":{"name":"sig"},"transform":[{"filter":"datum.p === 'a1'"}],"mark":{"type":"rule","color":"#666","strokeWidth":1},"encoding":{"x":{"field":"g1","type":"nominal"},"x2":{"field":"g2"},"y":{"field":"y","type":"quantitative","axis":{"values":[0,2,4,6,8,10],"title":["Relative mRNA expression","(iNOS/GAPDH)"],"titleFontSize":11.5,"titleLineHeight":11,"titlePadding":2,"minExtent":0,"labelOverlap":false}}}},
   {"data":{"name":"sig"},"transform":[{"filter":"datum.p === 'a1'"}],"mark":{"type":"text","fontSize":10,"baseline":"bottom","dy":-1,"color":"#111"},"encoding":{"x":{"field":"g1","type":"nominal","bandPosition":1.21},"y":{"field":"y","type":"quantitative","axis":{"values":[0,2,4,6,8,10],"title":["Relative mRNA expression","(iNOS/GAPDH)"],"titleFontSize":11.5,"titleLineHeight":11,"titlePadding":2,"minExtent":0,"labelOverlap":false}},"text":{"field":"t"}}}
  ]},
  {"width":135,"height":109,"layer":[
   {"data":{"name":"bars"},"transform":[{"filter":"datum.p === 'a2'"}],"mark":{"type":"bar","color":"#111"},"encoding":{"x":{"field":"g","type":"nominal","scale":{"domain":["Lv-NC","Lv-Mettl7b","Lv-NC+LPS","Lv-Mettl7b+LPS"],"paddingInner":0.32,"paddingOuter":0.21},"axis":{"title":null,"labelAngle":-45}},"y":{"field":"m","type":"quantitative","scale":{"domain":[0,15],"nice":false},"axis":{"values":[0,5,10,15],"title":["Relative mRNA expression","(iNOS/GAPDH)"],"titleFontSize":11.5,"titleLineHeight":11,"titlePadding":2,"minExtent":0,"labelOverlap":false}}}},
   {"data":{"name":"bars"},"transform":[{"filter":"datum.p === 'a2'"}],"mark":{"type":"rule","color":"#111","strokeWidth":1.5},"encoding":{"x":{"field":"g","type":"nominal"},"y":{"field":"m","type":"quantitative","axis":{"values":[0,5,10,15],"title":["Relative mRNA expression","(iNOS/GAPDH)"],"titleFontSize":11.5,"titleLineHeight":11,"titlePadding":2,"minExtent":0,"labelOverlap":false}},"y2":{"field":"h"}}},
   {"data":{"name":"bars"},"transform":[{"filter":"datum.p === 'a2'"}],"mark":{"type":"tick","orient":"horizontal","color":"#111","thickness":1.5,"size":12},"encoding":{"x":{"field":"g","type":"nominal"},"y":{"field":"h","type":"quantitative","axis":{"values":[0,5,10,15],"title":["Relative mRNA expression","(iNOS/GAPDH)"],"titleFontSize":11.5,"titleLineHeight":11,"titlePadding":2,"minExtent":0,"labelOverlap":false}}}},
   {"data":{"name":"sig"},"transform":[{"filter":"datum.p === 'a2'"}],"mark":{"type":"rule","color":"#666","strokeWidth":1},"encoding":{"x":{"field":"g1","type":"nominal"},"x2":{"field":"g2"},"y":{"field":"y","type":"quantitative","axis":{"values":[0,5,10,15],"title":["Relative mRNA expression","(iNOS/GAPDH)"],"titleFontSize":11.5,"titleLineHeight":11,"titlePadding":2,"minExtent":0,"labelOverlap":false}}}},
   {"data":{"name":"sig"},"transform":[{"filter":"datum.p === 'a2'"}],"mark":{"type":"text","fontSize":10,"baseline":"bottom","dy":-1,"color":"#111"},"encoding":{"x":{"field":"g1","type":"nominal","bandPosition":1.21},"y":{"field":"y","type":"quantitative","axis":{"values":[0,5,10,15],"title":["Relative mRNA expression","(iNOS/GAPDH)"],"titleFontSize":11.5,"titleLineHeight":11,"titlePadding":2,"minExtent":0,"labelOverlap":false}},"text":{"field":"t"}}}
  ]}
 ]},
 {"title":{"text":"b","anchor":"start","frame":"bounds","fontSize":20,"fontWeight":"bold","offset":21,"dx":4},"spacing":17,"hconcat":[
  {"width":131,"height":108,"layer":[
   {"data":{"name":"bars"},"transform":[{"filter":"datum.p === 'b1'"}],"mark":{"type":"bar","color":"#111"},"encoding":{"x":{"field":"g","type":"nominal","scale":{"domain":["si-NC","si-Mettl7b","si-NC+LPS","si-Mettl7b+LPS"],"paddingInner":0.32,"paddingOuter":0.21},"axis":{"title":null,"labelAngle":-45}},"y":{"field":"m","type":"quantitative","scale":{"domain":[0,15],"nice":false},"axis":{"values":[0,5,10,15],"title":["Relative mRNA expression","(iArg-1/GAPDH)"],"titleFontSize":11.5,"titleLineHeight":11,"titlePadding":2,"minExtent":0,"labelOverlap":false}}}},
   {"data":{"name":"bars"},"transform":[{"filter":"datum.p === 'b1'"}],"mark":{"type":"rule","color":"#111","strokeWidth":1.5},"encoding":{"x":{"field":"g","type":"nominal"},"y":{"field":"m","type":"quantitative","axis":{"values":[0,5,10,15],"title":["Relative mRNA expression","(iArg-1/GAPDH)"],"titleFontSize":11.5,"titleLineHeight":11,"titlePadding":2,"minExtent":0,"labelOverlap":false}},"y2":{"field":"h"}}},
   {"data":{"name":"bars"},"transform":[{"filter":"datum.p === 'b1'"}],"mark":{"type":"tick","orient":"horizontal","color":"#111","thickness":1.5,"size":12},"encoding":{"x":{"field":"g","type":"nominal"},"y":{"field":"h","type":"quantitative","axis":{"values":[0,5,10,15],"title":["Relative mRNA expression","(iArg-1/GAPDH)"],"titleFontSize":11.5,"titleLineHeight":11,"titlePadding":2,"minExtent":0,"labelOverlap":false}}}},
   {"data":{"name":"sig"},"transform":[{"filter":"datum.p === 'b1'"}],"mark":{"type":"rule","color":"#666","strokeWidth":1},"encoding":{"x":{"field":"g1","type":"nominal"},"x2":{"field":"g2"},"y":{"field":"y","type":"quantitative","axis":{"values":[0,5,10,15],"title":["Relative mRNA expression","(iArg-1/GAPDH)"],"titleFontSize":11.5,"titleLineHeight":11,"titlePadding":2,"minExtent":0,"labelOverlap":false}}}},
   {"data":{"name":"sig"},"transform":[{"filter":"datum.p === 'b1'"}],"mark":{"type":"text","fontSize":10,"baseline":"bottom","dy":-1,"color":"#111"},"encoding":{"x":{"field":"g1","type":"nominal","bandPosition":1.21},"y":{"field":"y","type":"quantitative","axis":{"values":[0,5,10,15],"title":["Relative mRNA expression","(iArg-1/GAPDH)"],"titleFontSize":11.5,"titleLineHeight":11,"titlePadding":2,"minExtent":0,"labelOverlap":false}},"text":{"field":"t"}}}
  ]},
  {"width":132,"height":109,"layer":[
   {"data":{"name":"bars"},"transform":[{"filter":"datum.p === 'b2'"}],"mark":{"type":"bar","color":"#111"},"encoding":{"x":{"field":"g","type":"nominal","scale":{"domain":["Lv-NC","Lv-Mettl7b","Lv-NC+LPS","Lv-Mettl7b+LPS"],"paddingInner":0.32,"paddingOuter":0.21},"axis":{"title":null,"labelAngle":-45}},"y":{"field":"m","type":"quantitative","scale":{"domain":[0,15],"nice":false},"axis":{"values":[0,5,10,15],"title":["Relative mRNA expression","(iArg-1/GAPDH)"],"titleFontSize":11.5,"titleLineHeight":11,"titlePadding":2,"minExtent":0,"labelOverlap":false}}}},
   {"data":{"name":"bars"},"transform":[{"filter":"datum.p === 'b2'"}],"mark":{"type":"rule","color":"#111","strokeWidth":1.5},"encoding":{"x":{"field":"g","type":"nominal"},"y":{"field":"m","type":"quantitative","axis":{"values":[0,5,10,15],"title":["Relative mRNA expression","(iArg-1/GAPDH)"],"titleFontSize":11.5,"titleLineHeight":11,"titlePadding":2,"minExtent":0,"labelOverlap":false}},"y2":{"field":"h"}}},
   {"data":{"name":"bars"},"transform":[{"filter":"datum.p === 'b2'"}],"mark":{"type":"tick","orient":"horizontal","color":"#111","thickness":1.5,"size":12},"encoding":{"x":{"field":"g","type":"nominal"},"y":{"field":"h","type":"quantitative","axis":{"values":[0,5,10,15],"title":["Relative mRNA expression","(iArg-1/GAPDH)"],"titleFontSize":11.5,"titleLineHeight":11,"titlePadding":2,"minExtent":0,"labelOverlap":false}}}},
   {"data":{"name":"sig"},"transform":[{"filter":"datum.p === 'b2'"}],"mark":{"type":"rule","color":"#666","strokeWidth":1},"encoding":{"x":{"field":"g1","type":"nominal"},"x2":{"field":"g2"},"y":{"field":"y","type":"quantitative","axis":{"values":[0,5,10,15],"title":["Relative mRNA expression","(iArg-1/GAPDH)"],"titleFontSize":11.5,"titleLineHeight":11,"titlePadding":2,"minExtent":0,"labelOverlap":false}}}},
   {"data":{"name":"sig"},"transform":[{"filter":"datum.p === 'b2'"}],"mark":{"type":"text","fontSize":10,"baseline":"bottom","dy":-1,"color":"#111"},"encoding":{"x":{"field":"g1","type":"nominal","bandPosition":1.21},"y":{"field":"y","type":"quantitative","axis":{"values":[0,5,10,15],"title":["Relative mRNA expression","(iArg-1/GAPDH)"],"titleFontSize":11.5,"titleLineHeight":11,"titlePadding":2,"minExtent":0,"labelOverlap":false}},"text":{"field":"t"}}}
  ]}
 ]}
 ]}
]},
{"spacing":8,"hconcat":[
 {"spacing":0,"vconcat":[
  {"title":{"text":"c","anchor":"start","frame":"bounds","fontSize":20,"fontWeight":"bold","dx":23,"offset":0},"vconcat":[
   {"title":{"text":"Count","orient":"left","anchor":"middle","fontSize":11.5,"fontWeight":"bold","offset":6},"spacing":0,"vconcat":[
    {"spacing":19,"hconcat":[
     {"data":{"values":[{"h":" "}]},"facet":{"column":{"field":"h","type":"nominal","header":{"labelPadding":9}}},
      "spec":{"width":1,"height":153,"mark":{"type":"rule","opacity":0},"encoding":{"y":{"datum":0,"type":"quantitative","scale":{"domain":[0,1]},"axis":{"title":null,"ticks":false,"labels":false,"grid":false,"domainColor":"#111","domainWidth":1.2,"minExtent":0}}}}},
     {"data":{"name":"hist"},"transform":[{"filter":"datum.r === 'c'"}],
      "facet":{"column":{"field":"g","type":"nominal","sort":["si-NC","si-Mettl7b","si-NC+LPS","si-Mettl7b+LPS"],"header":{"labelPadding":9}}},
      "spacing":11.5,"resolve":{"axis":{"y":"independent"}},
      "spec":{"width":130,"height":129,"view":{"stroke":"#111","strokeWidth":1.2},
       "encoding":{"x":{"field":"x","type":"quantitative","scale":{"domain":[0,100],"nice":false,"zero":false},"axis":{"values":[0,6,9.5,12,14,15.6,16.9,18.1,19.1,20,26,29.5,32,34,35.6,36.9,38.1,39.1,40,46,49.5,52,54,55.6,56.9,58.1,59.1,60,66,69.5,72,74,75.6,76.9,78.1,79.1,80,86,89.5,92,94,95.6,96.9,98.1,99.1,100],"labels":false,"title":null,"domain":false,"grid":false,"tickSize":{"condition":{"test":"datum.value % 20 === 0","value":6},"value":3}}},
                   "y":{"field":"y","type":"quantitative","scale":{"domain":[0,105],"nice":false},"axis":{"values":[0,4,8,12,16,20,24,28,32,36,40,44,48,52,56,60,64,68,72,76,80,84,88,92,96,100,104],"labels":false,"title":null,"domain":false,"grid":false,"minExtent":0,"tickSize":{"condition":{"test":"datum.value % 20 === 0","value":6},"value":3}}}},
       "layer":[
        {"transform":[{"filter":"datum.k === 'f'"}],"mark":{"type":"area","color":"#8e8e8e","interpolate":"monotone","line":{"color":"#111","strokeWidth":1}}},
        {"transform":[{"filter":"datum.k === 'd'"}],"mark":{"type":"line","color":"#111","strokeWidth":1,"strokeDash":[3,2],"interpolate":"monotone"}},
        {"transform":[{"filter":"datum.k === 'gate'"}],"mark":{"type":"rule","color":"#111","strokeWidth":1.2},"encoding":{"x2":{"field":"x2"}}},
        {"transform":[{"filter":"datum.k === 'cap'"}],"mark":{"type":"tick","orient":"vertical","color":"#111","thickness":1.2,"size":7}},
        {"transform":[{"filter":"datum.k === 'lab'"}],"mark":{"type":"text","font":"Liberation Serif","fontStyle":"italic","fontSize":10.5,"color":"#111"},"encoding":{"text":{"field":"t"}}}
       ]}}
    ]},
    {"width":625,"height":1,"data":{"values":[{}]},"mark":{"type":"rule","opacity":0},"encoding":{"x":{"datum":0,"type":"quantitative","scale":{"domain":[0,1]},"axis":{"title":"PE-CD38","ticks":false,"labels":false,"grid":false,"domainColor":"#111","domainWidth":1.2,"titleFontWeight":"bold","titleFontSize":11.5,"titlePadding":3,"titleColor":"#111","minExtent":0,"maxExtent":0}}}}
   ]}
  ]},
  {"spacing":20,"vconcat":[
   {"title":{"text":"d","anchor":"start","frame":"bounds","fontSize":20,"fontWeight":"bold","dx":23,"offset":11},"vconcat":[
    {"title":{"text":"Count","orient":"left","anchor":"middle","fontSize":11.5,"fontWeight":"bold","offset":6},"spacing":0,"vconcat":[
     {"spacing":19,"hconcat":[
      {"data":{"values":[{"h":" "}]},"facet":{"column":{"field":"h","type":"nominal","header":{"labelPadding":15}}},
       "spec":{"width":1,"height":153,"mark":{"type":"rule","opacity":0},"encoding":{"y":{"datum":0,"type":"quantitative","scale":{"domain":[0,1]},"axis":{"title":null,"ticks":false,"labels":false,"grid":false,"domainColor":"#111","domainWidth":1.2,"minExtent":0}}}}},
      {"data":{"name":"hist"},"transform":[{"filter":"datum.r === 'd'"}],
       "facet":{"column":{"field":"g","type":"nominal","sort":["si-NC","si-Mettl7b","si-NC+LPS","si-Mettl7b+LPS"],"header":{"labelPadding":15}}},
       "spacing":11.5,"resolve":{"axis":{"y":"independent"}},
       "spec":{"width":130,"height":129,"view":{"stroke":"#111","strokeWidth":1.2},
        "encoding":{"x":{"field":"x","type":"quantitative","scale":{"domain":[0,100],"nice":false,"zero":false},"axis":{"values":[0,6,9.5,12,14,15.6,16.9,18.1,19.1,20,26,29.5,32,34,35.6,36.9,38.1,39.1,40,46,49.5,52,54,55.6,56.9,58.1,59.1,60,66,69.5,72,74,75.6,76.9,78.1,79.1,80,86,89.5,92,94,95.6,96.9,98.1,99.1,100],"labels":false,"title":null,"domain":false,"grid":false,"tickSize":{"condition":{"test":"datum.value % 20 === 0","value":6},"value":3}}},
                    "y":{"field":"y","type":"quantitative","scale":{"domain":[0,105],"nice":false},"axis":{"values":[0,4,8,12,16,20,24,28,32,36,40,44,48,52,56,60,64,68,72,76,80,84,88,92,96,100,104],"labels":false,"title":null,"domain":false,"grid":false,"minExtent":0,"tickSize":{"condition":{"test":"datum.value % 20 === 0","value":6},"value":3}}}},
        "layer":[
         {"transform":[{"filter":"datum.k === 'f'"}],"mark":{"type":"area","color":"#8e8e8e","interpolate":"monotone","line":{"color":"#111","strokeWidth":1}}},
         {"transform":[{"filter":"datum.k === 'd'"}],"mark":{"type":"line","color":"#111","strokeWidth":1,"strokeDash":[3,2],"interpolate":"monotone"}},
         {"transform":[{"filter":"datum.k === 'gate'"}],"mark":{"type":"rule","color":"#111","strokeWidth":1.2},"encoding":{"x2":{"field":"x2"}}},
         {"transform":[{"filter":"datum.k === 'cap'"}],"mark":{"type":"tick","orient":"vertical","color":"#111","thickness":1.2,"size":7}},
         {"transform":[{"filter":"datum.k === 'lab'"}],"mark":{"type":"text","font":"Liberation Serif","fontStyle":"italic","fontSize":10.5,"color":"#111"},"encoding":{"text":{"field":"t"}}}
        ]}}
     ]},
     {"width":625,"height":1,"data":{"values":[{}]},"mark":{"type":"rule","opacity":0},"encoding":{"x":{"datum":0,"type":"quantitative","scale":{"domain":[0,1]},"axis":{"title":"PE-CD206","ticks":false,"labels":false,"grid":false,"domainColor":"#111","domainWidth":1.2,"titleFontWeight":"bold","titleFontSize":11.5,"titlePadding":3,"titleColor":"#111","minExtent":0,"maxExtent":0}}}}
    ]}
   ]},
   {"spacing":30,"vconcat":[
    {"title":{"text":"e","anchor":"start","frame":"bounds","fontSize":20,"fontWeight":"bold","dx":23,"offset":0},"vconcat":[
     {"title":{"text":"Count","orient":"left","anchor":"middle","fontSize":11.5,"fontWeight":"bold","offset":6},"spacing":0,"vconcat":[
      {"spacing":19,"hconcat":[
       {"data":{"values":[{"h":" "}]},"facet":{"column":{"field":"h","type":"nominal","header":{"labelPadding":12}}},
        "spec":{"width":1,"height":147,"mark":{"type":"rule","opacity":0},"encoding":{"y":{"datum":0,"type":"quantitative","scale":{"domain":[0,1]},"axis":{"title":null,"ticks":false,"labels":false,"grid":false,"domainColor":"#111","domainWidth":1.2,"minExtent":0}}}}},
       {"data":{"name":"hist"},"transform":[{"filter":"datum.r === 'e'"}],
        "facet":{"column":{"field":"g","type":"nominal","sort":["Lv-NC","Lv-Mettl7b","Lv-NC+LPS","Lv-Mettl7b+LPS"],"header":{"labelPadding":12}}},
        "spacing":11.5,"resolve":{"axis":{"y":"independent"}},
        "spec":{"width":130,"height":129,"view":{"stroke":"#111","strokeWidth":1.2},
         "encoding":{"x":{"field":"x","type":"quantitative","scale":{"domain":[0,100],"nice":false,"zero":false},"axis":{"values":[0,6,9.5,12,14,15.6,16.9,18.1,19.1,20,26,29.5,32,34,35.6,36.9,38.1,39.1,40,46,49.5,52,54,55.6,56.9,58.1,59.1,60,66,69.5,72,74,75.6,76.9,78.1,79.1,80,86,89.5,92,94,95.6,96.9,98.1,99.1,100],"labels":false,"title":null,"domain":false,"grid":false,"tickSize":{"condition":{"test":"datum.value % 20 === 0","value":6},"value":3}}},
                     "y":{"field":"y","type":"quantitative","scale":{"domain":[0,105],"nice":false},"axis":{"values":[0,4,8,12,16,20,24,28,32,36,40,44,48,52,56,60,64,68,72,76,80,84,88,92,96,100,104],"labels":false,"title":null,"domain":false,"grid":false,"minExtent":0,"tickSize":{"condition":{"test":"datum.value % 20 === 0","value":6},"value":3}}}},
         "layer":[
          {"transform":[{"filter":"datum.k === 'f'"}],"mark":{"type":"area","color":"#8e8e8e","interpolate":"monotone","line":{"color":"#111","strokeWidth":1}}},
          {"transform":[{"filter":"datum.k === 'd'"}],"mark":{"type":"line","color":"#111","strokeWidth":1,"strokeDash":[3,2],"interpolate":"monotone"}},
          {"transform":[{"filter":"datum.k === 'gate'"}],"mark":{"type":"rule","color":"#111","strokeWidth":1.2},"encoding":{"x2":{"field":"x2"}}},
          {"transform":[{"filter":"datum.k === 'cap'"}],"mark":{"type":"tick","orient":"vertical","color":"#111","thickness":1.2,"size":7}},
          {"transform":[{"filter":"datum.k === 'lab'"}],"mark":{"type":"text","font":"Liberation Serif","fontStyle":"italic","fontSize":10.5,"color":"#111"},"encoding":{"text":{"field":"t"}}}
         ]}}
      ]},
      {"width":625,"height":1,"data":{"values":[{}]},"mark":{"type":"rule","opacity":0},"encoding":{"x":{"datum":0,"type":"quantitative","scale":{"domain":[0,1]},"axis":{"title":"PE-CD38","ticks":false,"labels":false,"grid":false,"domainColor":"#111","domainWidth":1.2,"titleFontWeight":"bold","titleFontSize":11.5,"titlePadding":5,"titleColor":"#111","minExtent":0,"maxExtent":0}}}}
     ]}
    ]},
    {"title":{"text":"Count","orient":"left","anchor":"middle","fontSize":11.5,"fontWeight":"bold","offset":6},"spacing":0,"vconcat":[
     {"spacing":19,"hconcat":[
      {"data":{"values":[{"h":"f"}]},"facet":{"column":{"field":"h","type":"nominal","header":{"labelPadding":11.5,"labelFontSize":20,"labelAlign":"left"}}},
       "spec":{"width":1,"height":151,"mark":{"type":"rule","opacity":0},"encoding":{"y":{"datum":0,"type":"quantitative","scale":{"domain":[0,1]},"axis":{"title":null,"ticks":false,"labels":false,"grid":false,"domainColor":"#111","domainWidth":1.2,"minExtent":0}}}}},
      {"data":{"name":"hist"},"transform":[{"filter":"datum.r === 'f'"}],
       "facet":{"column":{"field":"g","type":"nominal","sort":["Lv-NC","Lv-Mettl7b","Lv-NC+LPS","Lv-Mettl7b+LPS"],"header":{"labelPadding":20}}},
       "spacing":11.5,"resolve":{"axis":{"y":"independent"}},
       "spec":{"width":130,"height":129,"view":{"stroke":"#111","strokeWidth":1.2},
        "encoding":{"x":{"field":"x","type":"quantitative","scale":{"domain":[0,100],"nice":false,"zero":false},"axis":{"values":[0,6,9.5,12,14,15.6,16.9,18.1,19.1,20,26,29.5,32,34,35.6,36.9,38.1,39.1,40,46,49.5,52,54,55.6,56.9,58.1,59.1,60,66,69.5,72,74,75.6,76.9,78.1,79.1,80,86,89.5,92,94,95.6,96.9,98.1,99.1,100],"labels":false,"title":null,"domain":false,"grid":false,"tickSize":{"condition":{"test":"datum.value % 20 === 0","value":6},"value":3}}},
                    "y":{"field":"y","type":"quantitative","scale":{"domain":[0,105],"nice":false},"axis":{"values":[0,4,8,12,16,20,24,28,32,36,40,44,48,52,56,60,64,68,72,76,80,84,88,92,96,100,104],"labels":false,"title":null,"domain":false,"grid":false,"minExtent":0,"tickSize":{"condition":{"test":"datum.value % 20 === 0","value":6},"value":3}}}},
        "layer":[
         {"transform":[{"filter":"datum.k === 'f'"}],"mark":{"type":"area","color":"#8e8e8e","interpolate":"monotone","line":{"color":"#111","strokeWidth":1}}},
         {"transform":[{"filter":"datum.k === 'd'"}],"mark":{"type":"line","color":"#111","strokeWidth":1,"strokeDash":[3,2],"interpolate":"monotone"}},
         {"transform":[{"filter":"datum.k === 'gate'"}],"mark":{"type":"rule","color":"#111","strokeWidth":1.2},"encoding":{"x2":{"field":"x2"}}},
         {"transform":[{"filter":"datum.k === 'cap'"}],"mark":{"type":"tick","orient":"vertical","color":"#111","thickness":1.2,"size":7}},
         {"transform":[{"filter":"datum.k === 'lab'"}],"mark":{"type":"text","font":"Liberation Serif","fontStyle":"italic","fontSize":10.5,"color":"#111"},"encoding":{"text":{"field":"t"}}}
        ]}}
     ]},
     {"width":625,"height":1,"data":{"values":[{}]},"mark":{"type":"rule","opacity":0},"encoding":{"x":{"datum":0,"type":"quantitative","scale":{"domain":[0,1]},"axis":{"title":"PE-CD206","ticks":false,"labels":false,"grid":false,"domainColor":"#111","domainWidth":1.2,"titleFontWeight":"bold","titleFontSize":11.5,"titlePadding":6,"titleColor":"#111","minExtent":0,"maxExtent":0}}}}
    ]}
   ]}
  ]}
 ]},
 {"spacing":7,"vconcat":[
  {"width":1,"height":1,"data":{"values":[{}]},"mark":{"type":"rule","opacity":0},"encoding":{}},
  {"spacing":0,"vconcat":[
  {"width":97,"height":107,"layer":[
   {"data":{"name":"bars"},"transform":[{"filter":"datum.p === 'c'"}],"mark":{"type":"bar","color":"#111"},"encoding":{"x":{"field":"g","type":"nominal","scale":{"domain":["si-NC","si-Mettl7b","si-NC+LPS","si-Mettl7b+LPS"],"paddingInner":0.28,"paddingOuter":0.1},"axis":{"title":null,"labelAngle":-45,"labelFontSize":11}},"y":{"field":"m","type":"quantitative","scale":{"domain":[0,80],"nice":false},"axis":{"values":[0,20,40,60,80],"title":"CD38⁺ Cells(%)","minExtent":0,"labelOverlap":false}}}},
   {"data":{"name":"bars"},"transform":[{"filter":"datum.p === 'c'"}],"mark":{"type":"rule","color":"#111","strokeWidth":1.5},"encoding":{"x":{"field":"g","type":"nominal"},"y":{"field":"m","type":"quantitative","axis":{"values":[0,20,40,60,80],"title":"CD38⁺ Cells(%)","minExtent":0,"labelOverlap":false}},"y2":{"field":"h"}}},
   {"data":{"name":"bars"},"transform":[{"filter":"datum.p === 'c'"}],"mark":{"type":"tick","orient":"horizontal","color":"#111","thickness":1.5,"size":10},"encoding":{"x":{"field":"g","type":"nominal"},"y":{"field":"h","type":"quantitative","axis":{"values":[0,20,40,60,80],"title":"CD38⁺ Cells(%)","minExtent":0,"labelOverlap":false}}}},
   {"data":{"name":"sig"},"transform":[{"filter":"datum.p === 'c'"}],"mark":{"type":"rule","color":"#666","strokeWidth":1},"encoding":{"x":{"field":"g1","type":"nominal"},"x2":{"field":"g2"},"y":{"field":"y","type":"quantitative","axis":{"values":[0,20,40,60,80],"title":"CD38⁺ Cells(%)","minExtent":0,"labelOverlap":false}}}},
   {"data":{"name":"sig"},"transform":[{"filter":"datum.p === 'c'"}],"mark":{"type":"text","fontSize":10,"baseline":"bottom","dy":-1,"color":"#111"},"encoding":{"x":{"field":"g1","type":"nominal","bandPosition":1.2},"y":{"field":"y","type":"quantitative","axis":{"values":[0,20,40,60,80],"title":"CD38⁺ Cells(%)","minExtent":0,"labelOverlap":false}},"text":{"field":"t"}}}
  ]},
  {"width":100,"height":106,"title":{"text":" ","fontSize":1,"offset":17},"layer":[
   {"data":{"name":"bars"},"transform":[{"filter":"datum.p === 'd'"}],"mark":{"type":"bar","color":"#111"},"encoding":{"x":{"field":"g","type":"nominal","scale":{"domain":["si-NC","si-Mettl7b","si-NC+LPS","si-Mettl7b+LPS"],"paddingInner":0.28,"paddingOuter":0.1},"axis":{"title":null,"labelAngle":-45,"labelFontSize":11}},"y":{"field":"m","type":"quantitative","scale":{"domain":[0,80],"nice":false},"axis":{"values":[0,20,40,60,80],"title":"CD206⁺ Cells(%)","minExtent":0,"labelOverlap":false}}}},
   {"data":{"name":"bars"},"transform":[{"filter":"datum.p === 'd'"}],"mark":{"type":"rule","color":"#111","strokeWidth":1.5},"encoding":{"x":{"field":"g","type":"nominal"},"y":{"field":"m","type":"quantitative","axis":{"values":[0,20,40,60,80],"title":"CD206⁺ Cells(%)","minExtent":0,"labelOverlap":false}},"y2":{"field":"h"}}},
   {"data":{"name":"bars"},"transform":[{"filter":"datum.p === 'd'"}],"mark":{"type":"tick","orient":"horizontal","color":"#111","thickness":1.5,"size":10},"encoding":{"x":{"field":"g","type":"nominal"},"y":{"field":"h","type":"quantitative","axis":{"values":[0,20,40,60,80],"title":"CD206⁺ Cells(%)","minExtent":0,"labelOverlap":false}}}},
   {"data":{"name":"sig"},"transform":[{"filter":"datum.p === 'd'"}],"mark":{"type":"rule","color":"#666","strokeWidth":1},"encoding":{"x":{"field":"g1","type":"nominal"},"x2":{"field":"g2"},"y":{"field":"y","type":"quantitative","axis":{"values":[0,20,40,60,80],"title":"CD206⁺ Cells(%)","minExtent":0,"labelOverlap":false}}}},
   {"data":{"name":"sig"},"transform":[{"filter":"datum.p === 'd'"}],"mark":{"type":"text","fontSize":10,"baseline":"bottom","dy":-1,"color":"#111"},"encoding":{"x":{"field":"g1","type":"nominal","bandPosition":1.2},"y":{"field":"y","type":"quantitative","axis":{"values":[0,20,40,60,80],"title":"CD206⁺ Cells(%)","minExtent":0,"labelOverlap":false}},"text":{"field":"t"}}}
  ]},
  {"width":97,"height":102,"title":{"text":" ","fontSize":1,"offset":7},"layer":[
   {"data":{"name":"bars"},"transform":[{"filter":"datum.p === 'e'"}],"mark":{"type":"bar","color":"#111"},"encoding":{"x":{"field":"g","type":"nominal","scale":{"domain":["Lv-NC","Lv-Mettl7b","Lv-NC+LPS","Lv-Mettl7b+LPS"],"paddingInner":0.28,"paddingOuter":0.1},"axis":{"title":null,"labelAngle":-45,"labelFontSize":11}},"y":{"field":"m","type":"quantitative","scale":{"domain":[0,150],"nice":false},"axis":{"values":[0,50,100,150],"title":"CD38⁺ Cells(%)","minExtent":0,"labelOverlap":false}}}},
   {"data":{"name":"bars"},"transform":[{"filter":"datum.p === 'e'"}],"mark":{"type":"rule","color":"#111","strokeWidth":1.5},"encoding":{"x":{"field":"g","type":"nominal"},"y":{"field":"m","type":"quantitative","axis":{"values":[0,50,100,150],"title":"CD38⁺ Cells(%)","minExtent":0,"labelOverlap":false}},"y2":{"field":"h"}}},
   {"data":{"name":"bars"},"transform":[{"filter":"datum.p === 'e'"}],"mark":{"type":"tick","orient":"horizontal","color":"#111","thickness":1.5,"size":10},"encoding":{"x":{"field":"g","type":"nominal"},"y":{"field":"h","type":"quantitative","axis":{"values":[0,50,100,150],"title":"CD38⁺ Cells(%)","minExtent":0,"labelOverlap":false}}}},
   {"data":{"name":"sig"},"transform":[{"filter":"datum.p === 'e'"}],"mark":{"type":"rule","color":"#666","strokeWidth":1},"encoding":{"x":{"field":"g1","type":"nominal"},"x2":{"field":"g2"},"y":{"field":"y","type":"quantitative","axis":{"values":[0,50,100,150],"title":"CD38⁺ Cells(%)","minExtent":0,"labelOverlap":false}}}},
   {"data":{"name":"sig"},"transform":[{"filter":"datum.p === 'e'"}],"mark":{"type":"text","fontSize":10,"baseline":"bottom","dy":-1,"color":"#111"},"encoding":{"x":{"field":"g1","type":"nominal","bandPosition":1.2},"y":{"field":"y","type":"quantitative","axis":{"values":[0,50,100,150],"title":"CD38⁺ Cells(%)","minExtent":0,"labelOverlap":false}},"text":{"field":"t"}}}
  ]},
  {"width":100,"height":106,"title":{"text":" ","fontSize":1,"offset":117},"layer":[
   {"data":{"name":"bars"},"transform":[{"filter":"datum.p === 'f'"}],"mark":{"type":"bar","color":"#111"},"encoding":{"x":{"field":"g","type":"nominal","scale":{"domain":["Lv-NC","Lv-Mettl7b","Lv-NC+LPS","Lv-Mettl7b+LPS"],"paddingInner":0.28,"paddingOuter":0.1},"axis":{"title":null,"labelAngle":-45,"labelFontSize":11}},"y":{"field":"m","type":"quantitative","scale":{"domain":[0,80],"nice":false},"axis":{"values":[0,20,40,60,80],"title":"CD206⁺ Cells(%)","minExtent":0,"labelOverlap":false}}}},
   {"data":{"name":"bars"},"transform":[{"filter":"datum.p === 'f'"}],"mark":{"type":"rule","color":"#111","strokeWidth":1.5},"encoding":{"x":{"field":"g","type":"nominal"},"y":{"field":"m","type":"quantitative","axis":{"values":[0,20,40,60,80],"title":"CD206⁺ Cells(%)","minExtent":0,"labelOverlap":false}},"y2":{"field":"h"}}},
   {"data":{"name":"bars"},"transform":[{"filter":"datum.p === 'f'"}],"mark":{"type":"tick","orient":"horizontal","color":"#111","thickness":1.5,"size":10},"encoding":{"x":{"field":"g","type":"nominal"},"y":{"field":"h","type":"quantitative","axis":{"values":[0,20,40,60,80],"title":"CD206⁺ Cells(%)","minExtent":0,"labelOverlap":false}}}},
   {"data":{"name":"sig"},"transform":[{"filter":"datum.p === 'f'"}],"mark":{"type":"rule","color":"#666","strokeWidth":1},"encoding":{"x":{"field":"g1","type":"nominal"},"x2":{"field":"g2"},"y":{"field":"y","type":"quantitative","axis":{"values":[0,20,40,60,80],"title":"CD206⁺ Cells(%)","minExtent":0,"labelOverlap":false}}}},
   {"data":{"name":"sig"},"transform":[{"filter":"datum.p === 'f'"}],"mark":{"type":"text","fontSize":10,"baseline":"bottom","dy":-1,"color":"#111"},"encoding":{"x":{"field":"g1","type":"nominal","bandPosition":1.2},"y":{"field":"y","type":"quantitative","axis":{"values":[0,20,40,60,80],"title":"CD206⁺ Cells(%)","minExtent":0,"labelOverlap":false}},"text":{"field":"t"}}}
  ]}
  ]}
 ]}
]}
]
}
